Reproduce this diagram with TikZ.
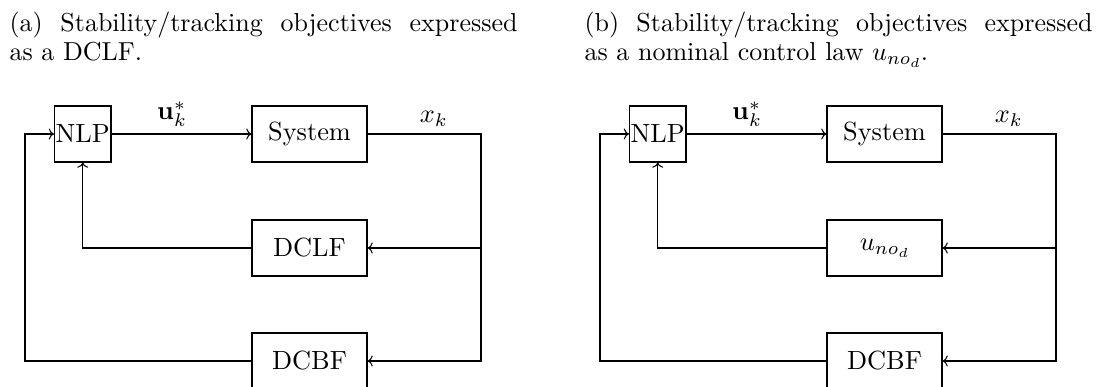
\documentclass[tikz,border=0pt]{standalone}
\usepackage{fontspec}
\usetikzlibrary{arrows.meta}
% 10pt design size of Latin Modern at every size
\setmainfont{lmroman10-regular}[Extension=.otf, BoldFont=lmroman10-bold, ItalicFont=lmroman10-italic]
\DeclareFontFamily{OML}{cmm}{\skewchar\font=127}
\DeclareFontShape{OML}{cmm}{m}{it}{<-14> cmmi5 <14-20> cmmi7 <20-> cmmi10}{}
\DeclareFontFamily{OMS}{cmsy}{\skewchar\font=48}
\DeclareFontShape{OMS}{cmsy}{m}{n}{<-14> cmsy5 <14-20> cmsy7 <20-> cmsy10}{}
\DeclareFontShape{OT1}{cmr}{bx}{n}{<-14> cmbx5 <14-20> cmbx7 <20-> cmbx10}{}
\DeclareFontShape{OT1}{cmr}{m}{n}{<-14> cmr5 <14-20> cmr7 <20-> cmr10}{}
\newcommand\diagfont{\fontsize{26.3}{31}\selectfont}
\newcommand\capfont{\fontsize{26}{29.5}\selectfont}
% One feedback loop: NLP -> System, state fed back through a middle block and DCBF
\newcommand\feedbackloop[1]{%
  \node[blk, minimum width=56.5pt] (nlp) at (82.75,134) {NLP};
  \node[blk, minimum width=115pt] (sys) at (309.5,134) {System};
  \node[blk, minimum width=115pt] (mid) at (309.5,248) {#1};
  \node[blk, minimum width=115pt] (cbf) at (309.5,361) {DCBF};
  \coordinate (rtop) at (481,134);
  \coordinate (lbot) at (25,361);
  \draw[->] (nlp.east) -- node[lbl, pos=0.43] {$\mathbf{u}_k^*$} (sys.west);
  \draw[->] (sys.east) -- node[lbl, pos=0.58] {$x_k$} (rtop) |- (cbf.east);
  \draw[->] (rtop |- mid.east) -- (mid.east);
  \draw[->] (mid.west) -| (nlp.south);
  \draw[->] (cbf.west) -- (lbot) |- (nlp.west);
}
\begin{document}
\begin{tikzpicture}[x=1pt, y=-1pt, line width=1.1pt, >={To[scale=1.3]},
  blk/.style={draw, inner sep=0pt, minimum height=56pt, font=\diagfont},
  lbl/.style={above=7pt, inner sep=0pt, font=\diagfont},
  captxt/.style={anchor=north west, inner sep=0pt, text width=508pt, align=justify, font=\capfont}]
  \useasboundingbox (0,0) rectangle (1100,387);
  \clip (0,0) rectangle (1100,387);

  % captions
  \node[captxt] (capa) at (9,11)
    {(a) Stability/tracking objectives expressed\linebreak as a DCLF.};
  \node[captxt] (capb) at (584,11)
    {(b) Stability/tracking objectives expressed\linebreak as a nominal control law $u_{no_d}$.};

  % left: tracking objective as a DCLF
  \begin{scope}[name prefix=a-]
    \feedbackloop{DCLF}
  \end{scope}

  % right: tracking objective as a nominal control law
  \begin{scope}[xshift=575pt, name prefix=b-]
    \feedbackloop{$u_{no_d}$}
  \end{scope}
\end{tikzpicture}
\end{document}
